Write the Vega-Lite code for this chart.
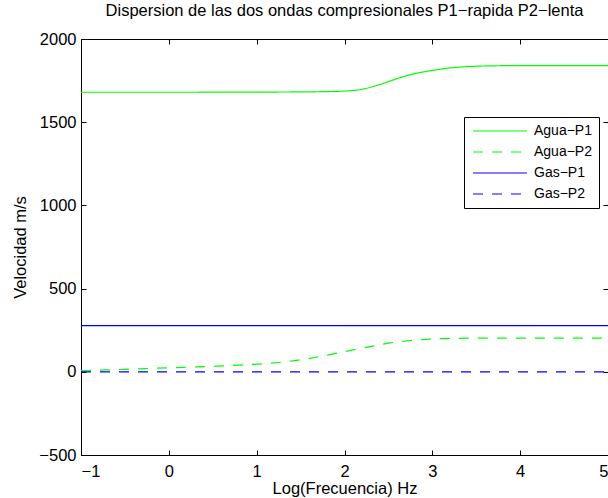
{
  "$schema": "https://vega.github.io/schema/vega-lite/v6.json",
  "width": 527,
  "height": 416,
  "autosize": "none",
  "padding": {"left": 81, "top": 39, "right": 0, "bottom": 43},
  "background": "white",
  "title": {
    "text": "Dispersion de las dos ondas compresionales P1−rapida P2−lenta",
    "font": "Liberation Sans",
    "fontSize": 16.5,
    "fontWeight": "normal",
    "color": "black",
    "anchor": "middle",
    "offset": 12
  },
  "data": {
    "values": [
      {"logf": -1.0, "v": 1680, "serie": "Agua−P1"},
      {"logf": 0.0, "v": 1680, "serie": "Agua−P1"},
      {"logf": 1.0, "v": 1681, "serie": "Agua−P1"},
      {"logf": 1.5, "v": 1682, "serie": "Agua−P1"},
      {"logf": 1.8, "v": 1684, "serie": "Agua−P1"},
      {"logf": 2.0, "v": 1687, "serie": "Agua−P1"},
      {"logf": 2.2, "v": 1698, "serie": "Agua−P1"},
      {"logf": 2.4, "v": 1726, "serie": "Agua−P1"},
      {"logf": 2.6, "v": 1762, "serie": "Agua−P1"},
      {"logf": 2.8, "v": 1792, "serie": "Agua−P1"},
      {"logf": 3.0, "v": 1811, "serie": "Agua−P1"},
      {"logf": 3.2, "v": 1826, "serie": "Agua−P1"},
      {"logf": 3.4, "v": 1834, "serie": "Agua−P1"},
      {"logf": 3.6, "v": 1838, "serie": "Agua−P1"},
      {"logf": 4.0, "v": 1840, "serie": "Agua−P1"},
      {"logf": 5.0, "v": 1840, "serie": "Agua−P1"},

      {"logf": -1.0, "v": 6, "serie": "Agua−P2"},
      {"logf": -0.5, "v": 15, "serie": "Agua−P2"},
      {"logf": 0.0, "v": 24, "serie": "Agua−P2"},
      {"logf": 0.5, "v": 33, "serie": "Agua−P2"},
      {"logf": 1.0, "v": 46, "serie": "Agua−P2"},
      {"logf": 1.25, "v": 56, "serie": "Agua−P2"},
      {"logf": 1.5, "v": 72, "serie": "Agua−P2"},
      {"logf": 1.75, "v": 95, "serie": "Agua−P2"},
      {"logf": 2.0, "v": 121, "serie": "Agua−P2"},
      {"logf": 2.25, "v": 147, "serie": "Agua−P2"},
      {"logf": 2.5, "v": 172, "serie": "Agua−P2"},
      {"logf": 2.75, "v": 188, "serie": "Agua−P2"},
      {"logf": 3.0, "v": 197, "serie": "Agua−P2"},
      {"logf": 3.25, "v": 201, "serie": "Agua−P2"},
      {"logf": 3.5, "v": 202, "serie": "Agua−P2"},
      {"logf": 4.0, "v": 202, "serie": "Agua−P2"},
      {"logf": 5.0, "v": 202, "serie": "Agua−P2"},

      {"logf": -1.0, "v": 277, "serie": "Gas−P1"},
      {"logf": 1.0, "v": 277, "serie": "Gas−P1"},
      {"logf": 3.0, "v": 277, "serie": "Gas−P1"},
      {"logf": 5.0, "v": 277, "serie": "Gas−P1"},

      {"logf": -1.0, "v": 0, "serie": "Gas−P2"},
      {"logf": 1.0, "v": 0, "serie": "Gas−P2"},
      {"logf": 3.0, "v": 0, "serie": "Gas−P2"},
      {"logf": 5.0, "v": 0, "serie": "Gas−P2"}
    ]
  },
  "layer": [
    {
      "mark": {"type": "line", "strokeWidth": 1.2, "interpolate": "monotone", "clip": true},
      "encoding": {
        "x": {
          "field": "logf",
          "type": "quantitative",
          "scale": {"domain": [-1, 5], "nice": false, "zero": false},
          "axis": {
            "orient": "bottom",
            "title": "Log(Frecuencia) Hz",
            "values": [-1, 0, 1, 2, 3, 4, 5],
            "format": "d",
            "labelPadding": 13,
            "titlePadding": 1
          }
        },
        "y": {
          "field": "v",
          "type": "quantitative",
          "scale": {"domain": [-500, 2000], "nice": false, "zero": false},
          "axis": {
            "orient": "left",
            "title": "Velocidad m/s",
            "values": [-500, 0, 500, 1000, 1500, 2000],
            "format": "d",
            "labelPadding": 10,
            "titlePadding": 10
          }
        },
        "color": {
          "field": "serie",
          "type": "nominal",
          "scale": {
            "domain": ["Agua−P1", "Agua−P2", "Gas−P1", "Gas−P2"],
            "range": ["#00ff00", "#00ff00", "#0000ff", "#0000ff"]
          },
          "legend": {"title": null}
        },
        "strokeDash": {
          "field": "serie",
          "type": "nominal",
          "scale": {
            "domain": ["Agua−P1", "Agua−P2", "Gas−P1", "Gas−P2"],
            "range": [[1, 0], [10, 9], [1, 0], [10, 9]]
          },
          "legend": {"title": null}
        }
      }
    },
    {
      "mark": {"type": "line", "opacity": 0},
      "encoding": {
        "x": {
          "field": "logf",
          "type": "quantitative",
          "axis": {"orient": "top", "title": null, "labels": false, "values": [-1, 0, 1, 2, 3, 4, 5]}
        },
        "y": {
          "field": "v",
          "type": "quantitative",
          "axis": {"orient": "right", "title": null, "labels": false, "values": [-500, 0, 500, 1000, 1500, 2000]}
        },
        "detail": {"field": "serie", "type": "nominal"}
      }
    }
  ],
  "resolve": {"axis": {"x": "independent", "y": "independent"}},
  "config": {
    "view": {"stroke": "black", "strokeWidth": 1},
    "axis": {
      "grid": false,
      "domainColor": "black",
      "domainWidth": 1,
      "tickColor": "black",
      "tickWidth": 1,
      "tickSize": -5,
      "labelFont": "Liberation Sans",
      "labelFontSize": 16.5,
      "labelColor": "black",
      "titleFont": "Liberation Sans",
      "titleFontSize": 16.5,
      "titleFontWeight": "normal",
      "titleColor": "black"
    },
    "legend": {
      "orient": "none",
      "legendX": 383,
      "legendY": 78,
      "fillColor": "white",
      "strokeColor": "black",
      "padding": 7,
      "labelFont": "Liberation Sans",
      "labelFontSize": 14,
      "labelColor": "black",
      "labelOffset": 49,
      "labelLimit": 200,
      "symbolType": "M-1,0H9.8",
      "symbolSize": 100,
      "symbolStrokeWidth": 1.2,
      "rowPadding": 7
    }
  }
}
